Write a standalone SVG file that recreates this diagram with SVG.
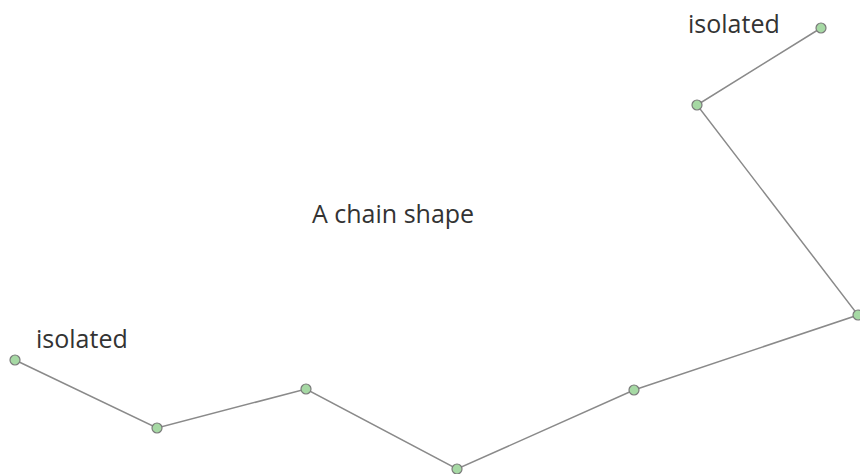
<svg xmlns="http://www.w3.org/2000/svg" width="860" height="474" viewBox="0 0 860 474">
<style>
.e{stroke:#8a8a8a;stroke-width:1.5;fill:none}
.n{fill:#a6d9a4;stroke:#7a7a7a;stroke-width:1.2}
.t{font-family:"Open Sans",sans-serif;font-size:25px;fill:#333}
</style>
<rect width="860" height="474" fill="#fff"/>
<g id="connectors">
<polyline class="e" points="15,360 157,428 306,389 457,469 634,390 858,315 697,105 821,28"/>
</g>
<g id="n1"><circle class="n" cx="15" cy="360" r="5"/></g>
<g id="n2"><circle class="n" cx="157" cy="428" r="5"/></g>
<g id="n3"><circle class="n" cx="306" cy="389" r="5"/></g>
<g id="n4"><circle class="n" cx="457" cy="469" r="5"/></g>
<g id="n5"><circle class="n" cx="634" cy="390" r="5"/></g>
<g id="n6"><circle class="n" cx="858" cy="315" r="5"/></g>
<g id="n7"><circle class="n" cx="697" cy="105" r="5"/></g>
<g id="n8"><circle class="n" cx="821" cy="28" r="5"/></g>
<g id="labels">
<text class="t" x="36" y="348">isolated</text>
<text class="t" x="688" y="33">isolated</text>
<text class="t" x="312" y="223">A chain shape</text>
</g>
</svg>
